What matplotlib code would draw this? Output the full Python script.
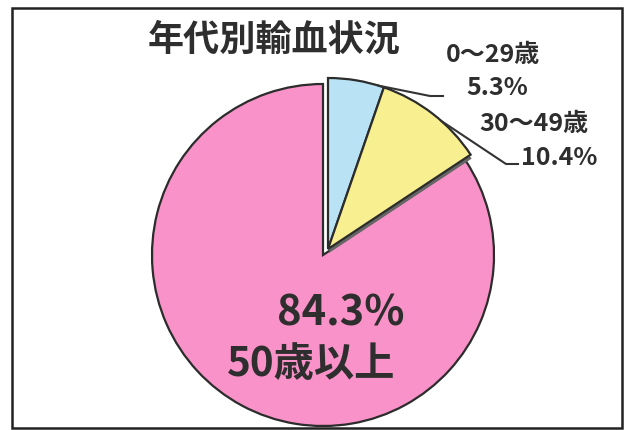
import numpy as np
import matplotlib
matplotlib.use("Agg")
import matplotlib.pyplot as plt
from matplotlib import patches

plt.rcParams['font.family'] = ['Noto Sans CJK JP', 'DejaVu Sans']

# data
title = "年代別輸血状況"
age_groups = ["0～29歳", "30～49歳", "50歳以上"]
shares = [5.3, 10.4, 84.3]
share_labels = ["5.3%", "10.4%", "84.3%"]
colors = ["#b9e3f5", "#f8ef90", "#f992c8"]

W, H = 627, 431
fig = plt.figure(figsize=(W / 100, H / 100), dpi=100)
ax = fig.add_axes([0, 0, 1, 1])

cx, cy, r = 323, H - 256, 171
wedges, _ = ax.pie(shares, colors=colors, startangle=90, counterclock=False,
                   center=(cx, cy), radius=r,
                   wedgeprops=dict(edgecolor='#2c2c2c', linewidth=1.6))

# pull the two small slices out a little (up and right), with a shadow
dx, dy = 5, 6
for w in wedges[:2]:
    sh = patches.Wedge((cx + dx + 1, cy + dy - 4), r, w.theta1, w.theta2,
                       facecolor='#666666', edgecolor='none', zorder=1.5)
    ax.add_patch(sh)
    w.set_center((cx + dx, cy + dy))
    w.set_zorder(2)

# leader lines for the small slices
ends = 90 - np.cumsum([0] + shares) * 3.6
starts = [ends[0] + 0.9 * (ends[1] - ends[0]), ends[1] + 0.6 * (ends[2] - ends[1])]
elbows = [[(430, H - 97), (443, H - 97)], [(506, H - 165), (518, H - 165)]]
for a, pts in zip(starts, elbows):
    x0 = cx + dx + r * np.cos(np.radians(a))
    y0 = cy + dy + r * np.sin(np.radians(a))
    xs = [x0] + [p[0] for p in pts]
    ys = [y0] + [p[1] for p in pts]
    ax.plot(xs, ys, color='#333333', lw=1.5, zorder=3)

tc = '#2e2e2e'
ax.text(274, H - 40, title, fontsize=26, fontweight='bold', color=tc, ha='center', va='center')
ax.text(493, H - 55, age_groups[0], fontsize=18, fontweight='bold', color=tc, ha='center', va='center')
ax.text(497, H - 88, share_labels[0], fontsize=18, fontweight='bold', color=tc, ha='center', va='center')
ax.text(534, H - 124, age_groups[1], fontsize=18, fontweight='bold', color=tc, ha='center', va='center')
ax.text(559, H - 158, share_labels[1], fontsize=18, fontweight='bold', color=tc, ha='center', va='center')
ax.text(341, H - 313, share_labels[2], fontsize=30, fontweight='bold', color=tc, ha='center', va='center', zorder=4)
ax.text(311, H - 365, age_groups[2], fontsize=29, fontweight='bold', color=tc, ha='center', va='center', zorder=4)

# outer frame
ax.add_patch(patches.Rectangle((12, H - 429), 610, 420, fill=False,
                               edgecolor='#222222', lw=1.8, zorder=5))

ax.set_xlim(0, W)
ax.set_ylim(0, H)
ax.set_aspect('equal')
ax.axis('off')

fig.savefig("out.png", dpi=100)
